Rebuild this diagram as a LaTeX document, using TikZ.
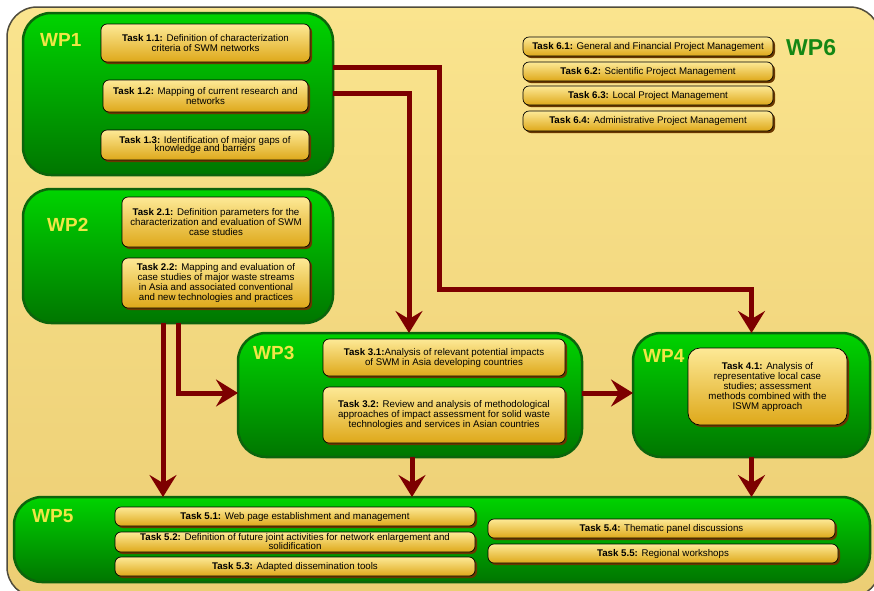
\documentclass[tikz,border=0pt]{standalone}
\usepackage{fontspec}
\setmainfont{Liberation Sans}
\usetikzlibrary{arrows.meta,shadows,calc}
\definecolor{bgtop}{RGB}{250,228,142}
\definecolor{bgbot}{RGB}{236,206,116}
\definecolor{framecol}{RGB}{80,76,60}
\definecolor{gtop}{RGB}{0,212,0}
\definecolor{gbot}{RGB}{0,118,0}
\definecolor{gline}{RGB}{12,100,12}
\definecolor{ttop}{RGB}{253,233,150}
\definecolor{tbot}{RGB}{222,168,25}
\definecolor{tshadow}{RGB}{105,55,0}
\definecolor{arrowred}{RGB}{125,0,0}
\definecolor{wplabel}{RGB}{240,230,70}
\definecolor{wpsix}{RGB}{20,135,20}
\tikzset{
  wpbox/.style={rounded corners=28pt, draw=gline, line width=2.5pt,
    top color=gtop, bottom color=gbot, inner sep=0pt, outer sep=0pt},
  taskbox/.style={rounded corners=6pt, draw=black, line width=0.7pt,
    top color=ttop, bottom color=tbot, align=center, inner xsep=2pt, inner ysep=0pt,
    outer sep=0pt, font=\fontsize{9.7}{10}\selectfont,
    drop shadow={shadow xshift=2pt, shadow yshift=-2pt, fill=tshadow, opacity=1}},
  wplab/.style={anchor=base west, text=wplabel, font=\bfseries\fontsize{19}{19}\selectfont, inner sep=0pt},
  arr/.style={draw=arrowred, line width=5pt, line join=miter,
    -{Stealth[length=22pt,width=27pt,inset=8pt]}}
}
\begin{document}
\begin{tikzpicture}[x=1pt,y=-1pt]
\useasboundingbox (0,0) rectangle (874,590);
\clip (0,0) rectangle (874,590);
\fill[white] (0,0) rectangle (874,590);
\path[rounded corners=30pt, top color=bgtop, bottom color=bgbot, draw=framecol, line width=1.5pt]
  (7,7) rectangle (880,597);

% work packages
\node[wpbox, minimum width=310pt, minimum height=162pt] (wp1) at (178,94) {};
\node[wpbox, minimum width=310pt, minimum height=134pt] (wp2) at (178,256) {};
\node[wpbox, minimum width=344pt, minimum height=124pt] (wp3) at (410,395) {};
\node[wpbox, minimum width=237pt, minimum height=124pt] (wp4) at (751.5,395) {};
\node[wpbox, minimum width=856pt, minimum height=85pt] (wp5) at (442,539.5) {};

\node[wplab] (l1) at (40,46) {WP1};
\node[wplab] (l2) at (47,231) {WP2};
\node[wplab] (l3) at (253,359) {WP3};
\node[wplab] (l4) at (643,362) {WP4};
\node[wplab] (l5) at (32,522) {WP5};
\node[wplab, text=wpsix, font=\bfseries\fontsize{23}{23}\selectfont] (l6) at (786,55) {WP6};

% tasks
\node[taskbox, minimum width=209pt, minimum height=38pt] (t11) at (205.5,43)
  {\textbf{Task 1.1:} Definition of characterization\\criteria of SWM networks};
\node[taskbox, minimum width=205pt, minimum height=32pt] (t12) at (205.5,96)
  {\textbf{Task 1.2:} Mapping of current research and\\networks};
\node[taskbox, minimum width=208pt, minimum height=30pt] (t13) at (205,145)
  {\textbf{Task 1.3:} Identification of major gaps of\\[-2pt]knowledge and barriers};
\node[taskbox, minimum width=188pt, minimum height=50pt] (t21) at (216,222)
  {\textbf{Task 2.1:} Definition parameters for the\\characterization and evaluation of SWM\\case studies};
\node[taskbox, minimum width=188pt, minimum height=50pt] (t22) at (216,283)
  {\textbf{Task 2.2:} Mapping and evaluation of\\case studies of major waste streams\\in Asia and associated conventional\\and new technologies and practices};
\node[taskbox, minimum width=242pt, minimum height=37pt] (t31) at (444,357.5)
  {\textbf{Task 3.1:}Analysis of relevant potential impacts\\of SWM in Asia developing countries};
\node[taskbox, minimum width=242pt, minimum height=56pt] (t32) at (444,415)
  {\textbf{Task 3.2:} Review and analysis of methodological\\approaches of impact assessment for solid waste\\technologies and services in Asian countries};
\node[taskbox, rounded corners=12pt, minimum width=159pt, minimum height=77pt] (t41) at (767.5,386.5)
  {\textbf{Task 4.1:} Analysis of\\representative local case\\studies; assessment\\methods combined with the\\ISWM approach};
\node[taskbox, minimum width=360pt, minimum height=19pt] (t51) at (295,516.5)
  {\textbf{Task 5.1:} Web page establishment and management};
\node[taskbox, minimum width=360pt, minimum height=20pt] (t52) at (295,542)
  {\textbf{Task 5.2:} Definition of future joint activities for network enlargement and\\[-1pt]solidification};
\node[taskbox, minimum width=360pt, minimum height=19pt] (t53) at (295,566.5)
  {\textbf{Task 5.3:} Adapted dissemination tools};
\node[taskbox, minimum width=347pt, minimum height=19pt] (t54) at (661.5,528.5)
  {\textbf{Task 5.4:} Thematic panel discussions};
\node[taskbox, minimum width=350pt, minimum height=19pt] (t55) at (663,553.5)
  {\textbf{Task 5.5:} Regional workshops};
\node[taskbox, minimum width=250pt, minimum height=19pt] (t61) at (648,46.5)
  {\textbf{Task 6.1:} General and Financial Project Management};
\node[taskbox, minimum width=250pt, minimum height=19pt] (t62) at (648,71.5)
  {\textbf{Task 6.2:} Scientific Project Management};
\node[taskbox, minimum width=250pt, minimum height=19pt] (t63) at (648,95.5)
  {\textbf{Task 6.3:} Local Project Management};
\node[taskbox, minimum width=250pt, minimum height=20pt] (t64) at (648,121)
  {\textbf{Task 6.4:} Administrative Project Management};

% connectors
\coordinate (bendA) at (439,289);
\draw[arr] ([yshift=27pt]wp1.east) -| (bendA) -| (wp4.north);
\draw[arr] ([yshift=1pt]wp1.east) -| ([xshift=-1pt]wp3.north);
\draw[arr] ([xshift=-15pt]wp2.south) -- ([xshift=-15pt]wp2.south |- wp5.north);
\draw[arr] (wp2.south) |- ([yshift=2pt]wp3.west);
\draw[arr] ([yshift=2pt]wp3.east) -- ([yshift=2pt]wp4.west);
\draw[arr] ([xshift=2pt]wp3.south) -- ([xshift=2pt]wp3.south |- wp5.north);
\draw[arr] (wp4.south) -- (wp4.south |- wp5.north);
\end{tikzpicture}
\end{document}
